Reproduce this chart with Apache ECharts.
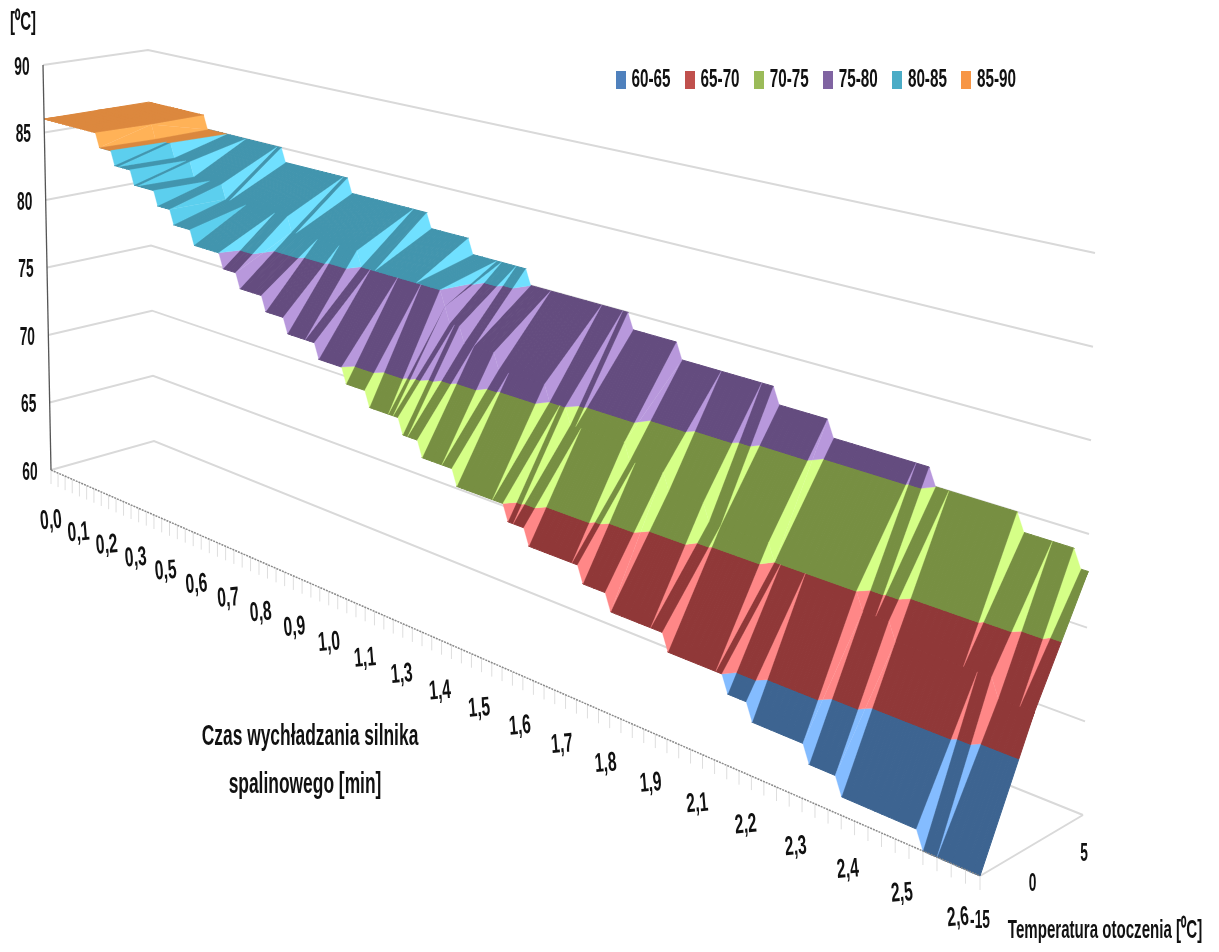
<!DOCTYPE html>
<html><head><meta charset="utf-8">
<style>html,body{margin:0;padding:0;background:#fff}#c{width:1219px;height:952px}</style>
<script src="https://cdn.jsdelivr.net/npm/echarts@6/dist/echarts.min.js"></script>
</head><body><div id="c"></div>
<script>
// ---- data ----
const timeLabels = ['0,0','0,1','0,2','0,3','0,5','0,6','0,7','0,8','0,9','1,0','1,1','1,3','1,4','1,5','1,6','1,7','1,8','1,9','2,1','2,2','2,3','2,4','2,5','2,6'];
const tempLabels = ['-15','0','5'];
const tempTicks = [60,65,70,75,80,85,90];
const bandNames = ['60-65','65-70','70-75','75-80','80-85','85-90'];
// Each ambient temperature holds a stair of engine temperatures: level[k] lasts up to sample end[k].
const frontLevels = [86,85,84,83,82,81,80,79,78,77,76,75,74,73,72,71,70,69,68,67,66,65,64,63,62,61,60];
const frontEnds   = [14,18,23,29,33,38,45,49,55,60,67,73,78,85,89,96,106,110,120,125,135,145,149,158,163,175,184];
const midLevels   = [86,85,84,83,82,81,80,79,78,77,76,75,74,73,72,71,70,69,68,67];
const midEnds     = [15,20,25,33,49,65,83,84,87,94,104,108,119,126,133,144,158,163,178,184];
const backLevels  = [86,85,84,83,82,81,80,79,78,77,76,75,74,73];
const backEnds    = [15,35,51,69,78,90,110,119,136,145,161,174,182,184];

// ---- style ----
const legendColors = ['#4F81BD','#C0504D','#9BBB59','#8064A2','#4BACC6','#F79646'];
const darkColors   = ['#3D6491','#903838','#778F42','#644C7F','#4295AE','#DC883E'];
const lightColors  = ['#84BCFF','#FF8787','#D5FF87','#B898DC','#70E0FF','#FFB257'];
const tealMid = '#5CCFEE';
const FONT = '"Liberation Sans"';

// ---- oblique view of the box: 3D (sample, row, temperature) -> plane of the hidden axes ----
const LAST = 184, PERSP = 1.44;
const FL = {a:[51,470], b:[980,876], c:[154,441], d:[1083,815]};
const TP = {a:[43,65],  b:[993,294], c:[148,50],  d:[1095,253]};
const lerp = (p,q,t)=>[p[0]+(q[0]-p[0])*t, p[1]+(q[1]-p[1])*t];
function project(h,v,z){
  const s=h/LAST, u=s/(s+PERSP*(1-s)), w=(z-60)/30;
  const f=lerp(lerp(FL.a,FL.b,u),lerp(FL.c,FL.d,u),v);
  const t=lerp(lerp(TP.a,TP.b,u),lerp(TP.c,TP.d,u),v);
  return lerp(f,t,w);
}

// ---- surface facets ----
function hold(levels,ends){const r=[];let k=0;for(let h=0;h<=LAST;h++){while(h>ends[k])k++;r.push(levels[k]);}return r;}
const rows=[hold(frontLevels,frontEnds),hold(midLevels,midEnds),hold(backLevels,backEnds)];
const rowV=[0,0.5,1];
function vert(h,j){const z=rows[j][h],p=project(h,rowV[j],z);return [p[0],p[1],z];}
function clip(poly,val,keepAbove){
  const out=[];
  for(let i=0;i<poly.length;i++){
    const a=poly[i],b=poly[(i+1)%poly.length];
    const ia=keepAbove?a[2]>=val:a[2]<=val, ib=keepAbove?b[2]>=val:b[2]<=val;
    if(ia)out.push(a);
    if(ia!==ib){const t=(val-a[2])/(b[2]-a[2]);out.push([a[0]+(b[0]-a[0])*t,a[1]+(b[1]-a[1])*t,val]);}
  }
  return out;
}
function area(p){let s=0;for(let i=0;i<p.length;i++){const a=p[i],b=p[(i+1)%p.length];s+=a[0]*b[1]-b[0]*a[1];}return Math.abs(s)/2;}
const facets=bandNames.map(()=>[]);
function addTri(tri,lit,soft){
  for(let b=0;b<6;b++){
    let p=clip(tri,60+5*b,true); if(p.length>2)p=clip(p,65+5*b,false);
    if(p.length>2&&area(p)>0.02)facets[b].push({pts:p.map(q=>[q[0],q[1]]),lit,soft});
  }
}
for(let j=0;j<2;j++)for(let h=0;h<LAST;h++){
  const a=vert(h,j),b=vert(h+1,j),c=vert(h+1,j+1),d=vert(h,j+1);
  const soft=j===0&&h<40;
  addTri([a,b,c],a[2]!==b[2],soft);
  addTri([a,c,d],d[2]!==c[2],soft);
}

// ---- frame lines ----
const frame=[];
tempTicks.forEach(z=>frame.push({pts:[project(0,0,z),project(0,1,z),project(LAST,1,z)],c:'#D9D9D9',w:2}));
frame.push({pts:[project(LAST,1,60),project(LAST,0,60)],c:'#D9D9D9',w:2});
const frontLines=[{pts:[project(0,0,60),project(0,0,90)],c:'#555555',w:1.3}];
const axisLine=[];
for(let h=0;h<=LAST;h+=2){const p=project(h,0,60);axisLine.push({pts:[p,[p[0],p[1]+14]],c:'#DEDEDE',w:1});}
axisLine.push({pts:[project(0,0,60),project(LAST,0,60)],c:'#8A8A8A',w:1.5,dash:[2,1]});

// ---- texts ----
const texts=[];
const T=(text,x,y,o)=>texts.push(Object.assign({text,x,y,size:25,sx:0.55,rot:0},o||{}));
tempTicks.forEach(z=>{const p=project(0,0,z);T(String(z),p[0]-21,p[1]+3);});
timeLabels.forEach((t,i)=>{const h=i*8,s=h/LAST,p=project(h,0,60);T(t,p[0]-22*s,p[1]+51-9*s,{rot:0.08,size:27,sx:0.58});});
tempLabels.forEach((t,i)=>{const p=project(LAST,rowV[i],60);T(t,p[0]+(i===0?0:1),p[1]+(i===0?45:39));});
bandNames.forEach((t,i)=>T(t,651+69.1*i,80,{sx:0.61}));
T('[\u2070C]',23,23,{size:25,sx:0.6});
T('Czas wychładzania silnika',310,737,{size:29,sx:0.6});
T('spalinowego [min]',305,785,{size:29,sx:0.6});
T('Temperatura otoczenia [\u2070C]',1105,931,{size:26,sx:0.58});

// ---- chart ----
function polySeries(list,z){
  return {type:'custom',coordinateSystem:'cartesian2d',silent:true,clip:false,z,
    data:list.map((_,i)=>[i]),encode:{x:0,y:0},
    renderItem:(p,api)=>{const l=list[p.dataIndex];
      return {type:'polyline',shape:{points:l.pts.map(q=>api.coord(q))},
        style:{fill:null,stroke:l.c,lineWidth:l.w,lineDash:l.dash||null}};}};
}
const series=[polySeries(frame,1)];
bandNames.forEach((name,b)=>{
  const list=facets[b];
  series.push({type:'custom',name,coordinateSystem:'cartesian2d',silent:true,clip:false,z:2,
    itemStyle:{color:legendColors[b]},
    data:list.map((_,i)=>[i]),encode:{x:0,y:0},
    renderItem:(p,api)=>{const f=list[p.dataIndex];
      const col=f.lit?((b===4&&f.soft)?tealMid:lightColors[b]):darkColors[b];
      return {type:'polygon',z2:f.lit?1:0,shape:{points:f.pts.map(q=>api.coord(q))},
        style:{fill:col,stroke:col,lineWidth:f.lit?0.3:1}};}});
});
series.push(polySeries(frontLines,3));
series.push(polySeries(axisLine,3));
series.push({type:'custom',coordinateSystem:'cartesian2d',silent:true,clip:false,z:4,
  data:texts.map((_,i)=>[i]),encode:{x:0,y:0},
  renderItem:(p,api)=>{const t=texts[p.dataIndex],c=api.coord([t.x,t.y]);
    return {type:'text',x:c[0],y:c[1],scaleX:t.sx,rotation:t.rot,
      style:{text:t.text,fontFamily:FONT,fontWeight:'bold',fontSize:t.size,fill:'#111',align:'center',verticalAlign:'middle'}};}});

const chart=echarts.init(document.getElementById('c'),null,{renderer:'canvas'});
chart.setOption({
  animation:false,backgroundColor:'#fff',
  grid:{left:0,right:0,top:0,bottom:0},
  xAxis:{type:'value',min:0,max:1219,show:false},
  yAxis:{type:'value',min:0,max:952,inverse:true,show:false},
  legend:{data:bandNames,icon:'rect',left:616,top:71,padding:0,itemWidth:10,itemHeight:18,itemGap:59,selectedMode:false,
    formatter:()=>'',textStyle:{padding:0,fontSize:1}},
  series
});
</script></body></html>
